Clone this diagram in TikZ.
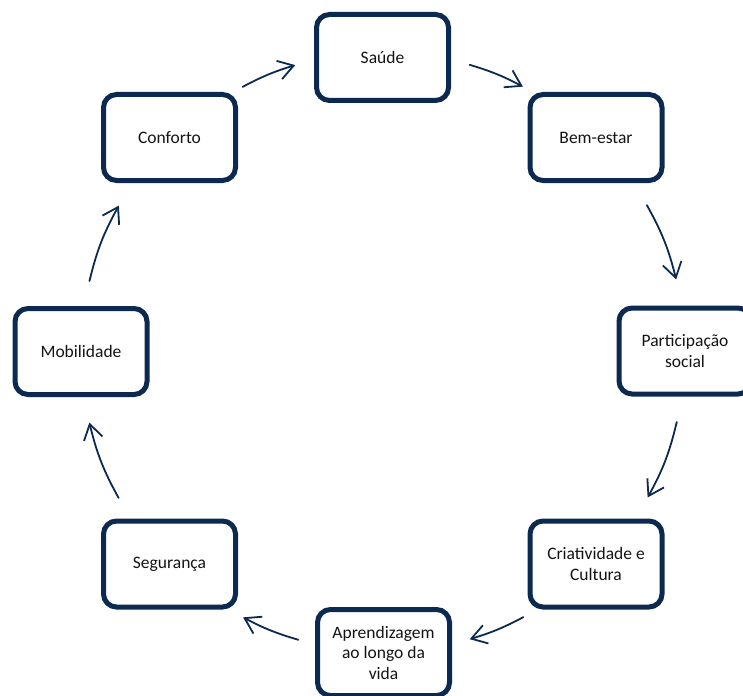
\documentclass[tikz,border=0pt]{standalone}
\usepackage{fontspec}
\setmainfont{Carlito}
\usetikzlibrary{arrows.meta}
\definecolor{navy}{RGB}{12,42,80}
\definecolor{txt}{RGB}{20,20,20}
\begin{document}
\begin{tikzpicture}[x=1pt,y=-1pt,
  box/.style={draw=navy, line width=5pt, rounded corners=13pt, minimum width=132pt, minimum height=86pt, inner sep=0pt, align=center, font=\fontsize{17.5}{20.5}\selectfont, text=txt, fill=white},
  arr/.style={draw=navy, line width=1.8pt, line cap=round, -{Straight Barb[length=15pt,width=19pt,line width=1.8pt]}}
]
\useasboundingbox (0,0) rectangle (743,695);
\fill[white] (0,0) rectangle (743,695);
\coordinate (c) at (383,352);

\node[box] (saude) at (382.5,57.5) {Saúde};
\node[box] (bem) at (596,137.5) {Bem-estar};
\node[box] (part) at (685,351) {Participação\\social};
\node[box] (cria) at (596,564) {Criatividade e\\Cultura};
\node[box] (apre) at (383.5,652.5) {Aprendizagem\\ao longo da\\vida};
\node[box] (seg) at (169.5,564) {Segurança};
\node[box] (mob) at (81,351.5) {Mobilidade};
\node[box] (conf) at (169.5,137.5) {Conforto};

\coordinate (s1) at ([shift={(117.9:300pt)}]c);
\coordinate (e1) at ([shift={(107:300pt)}]c);
\coordinate (s2) at ([shift={(73.2:300pt)}]c);
\coordinate (e2) at ([shift={(62.2:300pt)}]c);
\coordinate (s3) at ([shift={(29.1:302pt)}]c);
\coordinate (e3) at ([shift={(13.9:302pt)}]c);
\coordinate (s4) at ([shift={(-13.4:302pt)}]c);
\coordinate (e4) at ([shift={(-28.8:302pt)}]c);
\coordinate (s5) at ([shift={(-62.1:300pt)}]c);
\coordinate (e5) at ([shift={(-73.2:300pt)}]c);
\coordinate (s6) at ([shift={(-106.4:300pt)}]c);
\coordinate (e6) at ([shift={(-117.8:300pt)}]c);
\coordinate (s7) at ([shift={(208.9:302pt)}]c);
\coordinate (e7) at ([shift={(193.5:302pt)}]c);
\coordinate (s8) at ([shift={(166.4:302pt)}]c);
\coordinate (e8) at ([shift={(151:302pt)}]c);

\draw[arr] (s1) to[bend left=5.5] (e1);
\draw[arr] (s2) to[bend left=5.5] (e2);
\draw[arr] (s3) to[bend left=7.6] (e3);
\draw[arr] (s4) to[bend left=7.7] (e4);
\draw[arr] (s5) to[bend left=5.5] (e5);
\draw[arr] (s6) to[bend left=5.7] (e6);
\draw[arr] (s7) to[bend left=7.7] (e7);
\draw[arr] (s8) to[bend left=7.7] (e8);
\end{tikzpicture}
\end{document}
